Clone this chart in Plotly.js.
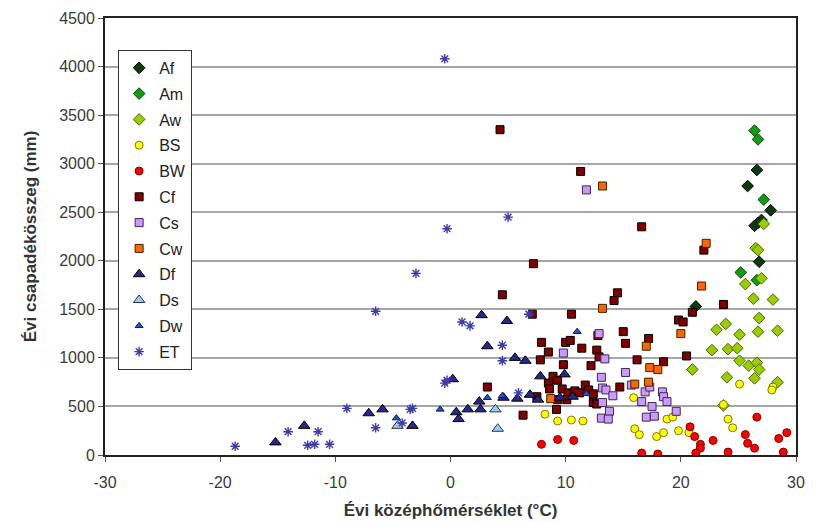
<!DOCTYPE html>
<html><head><meta charset="utf-8">
<script src="https://cdn.plot.ly/plotly-3.0.1.min.js"></script>
<style>body{margin:0;background:#fff}#c{width:816px;height:522px}</style>
</head><body><div id="c"></div>
<script>
const classNames = ["Af","Am","Aw","BS","BW","Cf","Cs","Cw","Df","Ds","Dw","ET"];

const xTickVals = [-30,-20,-10,0,10,20,30];
const xTickText = ["-30","-20","-10","0","10","20","30"];

const afX = [26.6,25.8,27.8,27.0,26.7,26.4,26.8,21.3];
const afY = [2935,2770,2520,2420,2390,2360,1990,1530];

const amX = [26.4,26.7,27.2,25.2,26.6];
const amY = [3340,3250,2630,1880,1800];

const awX = [27.2,26.5,26.7,27.0,25.6,26.3,28.0,26.8,23.9,23.1,25.1,26.7,28.4,22.7,24.1,24.9,25.1,25.9,26.6,26.8,21.0,24.0,26.4,28.4,23.7];
const awY = [2380,2130,2110,1820,1760,1610,1600,1410,1350,1290,1240,1270,1280,1080,1090,1100,970,920,950,880,880,800,790,750,510];

const bsX = [8.2,9.3,10.5,11.5,15.9,18.8,19.3,16.0,16.4,17.9,18.5,19.8,20.7,25.1,28.0,27.9,23.7,24.1,24.5];
const bsY = [420,350,360,350,590,370,390,270,210,190,230,250,230,730,700,670,520,370,280];

const bwX = [7.9,9.3,10.7,16.6,18.0,20.8,21.2,21.7,21.7,21.3,22.8,24.1,25.6,25.8,26.4,28.5,29.2,28.9,26.6];
const bwY = [110,160,150,20,10,290,190,110,70,20,150,30,210,120,70,170,230,30,390];

const cfX = [4.3,11.3,7.2,4.5,14.5,14.2,16.6,22.0,23.7,21.0,19.8,20.2,20.5,10.5,15.0,15.2,17.2,12.8,10.0,10.4,11.4,12.7,12.9,16.2,18.5,12.2,9.8,7.1,7.9,8.5,7.8,8.9,9.3,8.5,8.6,3.2,9.7,10.2,10.8,11.2,11.7,12.0,10.1,9.2,6.3,9.3,12.4,12.4,14.7,12.7,7.5];
const cfY = [3350,2920,1970,1650,1670,1590,2350,2110,1550,1470,1390,1370,1020,1450,1270,1150,1200,1230,1160,1180,1100,1080,1010,980,960,920,930,1450,1160,1060,980,810,770,740,680,700,680,640,660,640,720,670,570,470,410,570,540,630,700,525,600];

const csX = [11.8,9.8,12.9,13.4,15.2,13.1,13.2,13.5,14.1,15.7,16.9,17.3,18.4,18.5,18.8,13.2,16.6,17.5,19.6,13.8,13.1,13.7,17.0,17.7];
const csY = [2730,1050,1250,990,850,800,690,670,610,720,650,700,650,600,550,540,550,500,450,450,380,370,390,400];

const cwX = [13.2,22.2,21.8,13.2,17.0,20.0,17.3,18.0,16.0,17.2,8.7];
const cwY = [2770,2180,1740,1510,1120,1250,900,880,730,750,580];

const dfX = [-15.2,-12.7,-7.1,-5.9,-3.3,0.2,0.5,0.7,1.5,2.5,2.6,2.7,4.9,3.2,5.6,6.5,7.8,9.9,4.6,5.8,6.9,7.6,9.5,10.6];
const dfY = [130,300,430,470,300,780,440,370,470,550,470,1440,1380,1120,1000,970,810,830,590,580,620,570,590,600];

const dsX = [-4.6,3.9,4.1];
const dsY = [300,470,270];

const dwX = [-4.7,-0.9,3.2,4.5,11.0,11.8];
const dwY = [380,470,590,610,1270,630];

const etX = [-18.7,-14.1,-12.4,-11.8,-10.5,-11.5,-9.0,-6.5,-6.5,-4.2,-3.5,-3.3,-3.0,-0.5,-0.3,-0.5,-0.3,1.0,1.7,4.5,4.5,5.0,5.9,6.8];
const etY = [90,240,100,110,110,240,480,280,1480,330,470,480,1870,740,770,4080,2330,1370,1330,1130,970,2450,640,1450];

const xs = [afX,amX,awX,bsX,bwX,cfX,csX,cwX,dfX,dsX,dwX,etX];
const ys = [afY,amY,awY,bsY,bwY,cfY,csY,cwY,dfY,dsY,dwY,etY];

const styles = [
  {symbol:"diamond", color:"#0b3d0b", size:9, line:"#000000", w:1},
  {symbol:"diamond", color:"#139a13", size:9, line:"#0a4a0a", w:1},
  {symbol:"diamond", color:"#9acd00", size:9, line:"#4d6600", w:1},
  {symbol:"circle", color:"#ffff00", size:8, line:"#7a7a00", w:1},
  {symbol:"circle", color:"#ff0000", size:8, line:"#800000", w:1},
  {symbol:"square", color:"#800000", size:8, line:"#000000", w:1},
  {symbol:"square", color:"#cc99ff", size:8, line:"#3a2a50", w:1},
  {symbol:"square", color:"#ff6600", size:8, line:"#402000", w:1},
  {symbol:"triangle-up", color:"#28288c", size:10, line:"#000000", w:1},
  {symbol:"triangle-up", color:"#99ccff", size:10, line:"#333333", w:1},
  {symbol:"triangle-up", color:"#2255cc", size:7, line:"#0a1a50", w:1},
  {symbol:"asterisk-open", color:"#3c3ca8", size:8, line:"#3c3ca8", w:1.4}
];

const traces = classNames.map((n,i)=>({
  type:"scatter", mode:"markers", name:n, x:xs[i], y:ys[i], legendgroup:n,
  marker:{symbol:styles[i].symbol, size:styles[i].size, color:styles[i].color,
          line:{color:styles[i].line, width:styles[i].w}}
}));

const font = "Arial, 'Liberation Sans', sans-serif";
const layout = {
  width:816, height:522,
  margin:{l:105, r:20, t:18, b:67},
  paper_bgcolor:"#ffffff", plot_bgcolor:"#ffffff",
  showlegend:true,
  legend:{x:0.019, y:0.927, xanchor:"left", yanchor:"top", bgcolor:"#ffffff",
          bordercolor:"#333333", borderwidth:1, tracegroupgap:2, itemwidth:30,
          font:{family:font, size:16, color:"#222222"}},
  xaxis:{range:[-30,30], tickmode:"array", tickvals:xTickVals, ticktext:xTickText,
         ticks:"outside", ticklen:5, tickcolor:"#555", ticklabelstandoff:7,
         showgrid:false, zeroline:false, showline:true, linecolor:"#222", linewidth:2, mirror:true,
         tickfont:{family:font, size:16, color:"#3a3a3a"},
         title:{text:"<b>Évi középhőmérséklet (°C)</b>", font:{family:font, size:17, color:"#333"}, standoff:14}},
  yaxis:{range:[0,4500], dtick:500, tick0:0, ticks:"outside", ticklen:5, tickcolor:"#555",
         showgrid:true, gridcolor:"#a6a6a6", gridwidth:2, zeroline:false,
         showline:true, linecolor:"#222", linewidth:2, mirror:true,
         tickfont:{family:font, size:16, color:"#3a3a3a"},
         title:{text:"<b>Évi csapadékösszeg (mm)</b>", font:{family:font, size:17, color:"#333"}, standoff:18}}
};
Plotly.newPlot("c", traces, layout, {staticPlot:true});
</script></body></html>
